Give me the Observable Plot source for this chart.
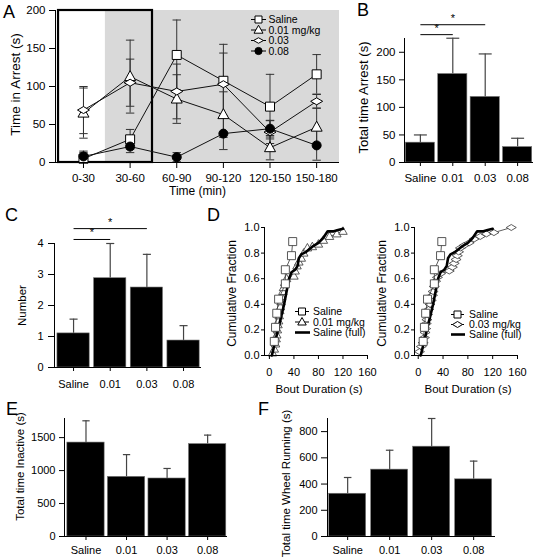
<!DOCTYPE html>
<html><head><meta charset="utf-8">
<script src="https://cdn.jsdelivr.net/npm/d3@7"></script>
<script src="https://cdn.jsdelivr.net/npm/@observablehq/plot@0.6"></script>
<style>
body{margin:0;background:#fff}
#fig{position:relative;width:537px;height:558px;overflow:hidden;font-family:"Liberation Sans",Arial,Helvetica,sans-serif;background:#fff}
.letter{position:absolute;font-size:18px;line-height:1;color:#000}
</style></head>
<body><div id="fig"></div>
<script>
// ---------------- DATA ----------------
const timeBins = ["0-30","30-60","60-90","90-120","120-150","150-180"];
const arrestSaline    = [5, 30.5, 141.5, 107.5, 73.5, 116];
const arrestSalineErr = [8, 13, 46, 48, 42.5, 26];
const arrest001       = [65, 113, 83.5, 63, 19.5, 46.5];
const arrest001Err    = [33, 48, 32, 30, 16, 25];
const arrest003       = [69, 105, 93.5, 103, 40, 80.5];
const arrest003Err    = [31, 31, 36, 41, 15, 9];
const arrest008       = [8, 21, 7, 38, 44.5, 22.5];
const arrest008Err    = [7, 8, 6, 21, 11, 19.5];
const seriesNamesA = ["Saline","0.01 mg/kg","0.03","0.08"];

const doseLabels = ["Saline","0.01","0.03","0.08"];
const totalArrest = [36, 160.5, 119, 28];
const totalArrestErr = [14, 65, 78, 16];
const arrestNumber = [1.1, 2.88, 2.58, 0.87];
const arrestNumberErr = [0.46, 1.12, 1.07, 0.48];
const totalInactive = [1425, 905, 880, 1402];
const totalInactiveErr = [330, 337, 152, 136];
const totalWheel = [326, 510, 685, 436];
const totalWheelErr = [124, 148, 215, 139];

const sigB = [{from:"Saline", to:"0.01", level:232}, {from:"Saline", to:"0.03", level:250}];
const sigC = [{from:"Saline", to:"0.01", level:4.13}, {from:"Saline", to:"0.03", level:4.48}];

const cdfSalineX = [8, 10, 12, 15, 26, 26, 36, 38];
const cdfSalineY = [0.11, 0.22, 0.33, 0.44, 0.56, 0.67, 0.78, 0.89];
const cdfFullX = [4, 9, 14, 19, 24, 28, 32, 36, 42, 46, 48, 52, 60, 70, 80, 88, 95, 105, 112, 120];
const cdfFullY = [0, 0.1, 0.2, 0.3, 0.4, 0.5, 0.6, 0.65, 0.67, 0.7, 0.76, 0.79, 0.81, 0.85, 0.88, 0.92, 0.97, 0.97, 0.98, 0.99];
const cdf001X = [5,8,10,11,12,13,14,15,16,17,18,19,20,22,23,25,28,40,42,45,48,52,56,62,70,80,88,98,110,120];
const cdf001Y = [0.02,0.05,0.09,0.13,0.16,0.2,0.24,0.27,0.31,0.35,0.38,0.42,0.46,0.5,0.53,0.57,0.6,0.62,0.66,0.7,0.73,0.76,0.8,0.84,0.85,0.87,0.9,0.93,0.95,0.97];
const cdf003X = [2,5,8,10,11,12,13,14,15,17,19,21,23,24,26,28,31,36,50,55,58,61,63,65,68,74,82,90,100,110,122,150];
const cdf003Y = [0.03,0.07,0.1,0.14,0.18,0.21,0.25,0.28,0.32,0.36,0.4,0.43,0.47,0.5,0.54,0.58,0.61,0.64,0.66,0.69,0.72,0.75,0.78,0.81,0.84,0.86,0.88,0.91,0.93,0.95,0.96,1.0];
const cdfTicksX = [0, 40, 80, 120, 160];
const cdfTicksY = [0, 0.2, 0.4, 0.6, 0.8, 1.0];

// ---------------- HELPERS ----------------
const FONT = '"Liberation Sans", Arial, Helvetica, sans-serif';
const fig = document.getElementById("fig");
function place(el, left, top){ el.style.position="absolute"; el.style.left=left+"px"; el.style.top=top+"px"; fig.appendChild(el); }
function letter(t, left, top){ const d=document.createElement("div"); d.className="letter"; d.textContent=t; d.style.left=left+"px"; d.style.top=top+"px"; fig.appendChild(d); }
const sqSym = s => ({draw(c){ const h=s/2; c.moveTo(-h,-h); c.lineTo(h,-h); c.lineTo(h,h); c.lineTo(-h,h); c.closePath(); }});
const triSym = (w,h) => ({draw(c){ c.moveTo(0,-h*0.6); c.lineTo(w/2,h*0.4); c.lineTo(-w/2,h*0.4); c.closePath(); }});
const diaSym = (w,h) => ({draw(c){ c.moveTo(-w/2,0); c.lineTo(0,-h/2); c.lineTo(w/2,0); c.lineTo(0,h/2); c.closePath(); }});
const cirSym = r => ({draw(c){ c.moveTo(r,0); c.arc(0,0,r,0,2*Math.PI); }});
const style = fs => ({fontFamily: FONT, fontSize: fs+"px", color:"black", background:"transparent", overflow:"visible"});
const intFmt = d => String(d);
function yTitle(t, dx, dy, fs){ return Plot.text([t], {frameAnchor: "left", textAnchor: "middle", lineAnchor: "middle", rotate: -90, dx, dy, fontSize: fs, fill: "black"}); }
function xTitle(t, dx, dy, fs){ return Plot.text([t], {frameAnchor: "bottom", textAnchor: "middle", lineAnchor: "middle", dx, dy, fontSize: fs, fill: "black"}); }

function legend(left, top, w, h, items, fs){
  const svg = d3.create("svg").attr("width", w).attr("height", h).style("overflow","visible");
  items.forEach(it => {
    svg.append("line").attr("x1", it.x0).attr("x2", it.x1).attr("y1", it.y).attr("y2", it.y)
      .attr("stroke", "#000").attr("stroke-width", it.sw || 1);
    if (it.sym) {
      svg.append("path").attr("d", d3.symbol().type(it.sym)()).attr("transform", `translate(${it.xm},${it.y})`)
        .attr("fill", it.fill).attr("stroke", "#000").attr("stroke-width", 1);
    }
    svg.append("text").attr("x", it.tx).attr("y", it.y).attr("dy","0.35em").attr("font-family", FONT)
      .attr("font-size", fs).attr("fill","#000").text(it.label);
  });
  place(svg.node(), left, top);
}

// ---------------- PANEL A ----------------
const xDomA = [-0.6, 5.49];
const symsA = [sqSym(9), triSym(11,10), diaSym(12,7), cirSym(4.5)];
const fillsA = ["white","white","white","black"];
const valsA = [arrestSaline, arrest001, arrest003, arrest008];
const errsA = [arrestSalineErr, arrest001Err, arrest003Err, arrest008Err];
const rowsA = seriesNamesA.flatMap((s,k) => valsA[k].map((v,i) => ({series:s, k, i, v, lo: Math.max(0, v-errsA[k][i]), hi: v+errsA[k][i]})));
const capA = 0.09;
const plotA = Plot.plot({
  width: 345, height: 197, marginLeft: 55, marginRight: 6, marginTop: 10, marginBottom: 35,
  style: style(11.5),
  x: {type:"linear", domain: xDomA, label: null},
  y: {domain: [0, 200], label: null},
  marks: [
    Plot.rect([0], {x1: 0.47, x2: xDomA[1], y1: 0, y2: 200, fill: "#d9d9d9"}),
    Plot.rect([0], {x1: -0.535, x2: 1.48, y1: 0, y2: 200, fill: "none", stroke: "black", strokeWidth: 2.2}),
    Plot.ruleX(rowsA, {x: "i", y1: "lo", y2: "hi", stroke: "#333", strokeWidth: 1}),
    Plot.link(rowsA, {x1: d => d.i - capA, x2: d => d.i + capA, y1: "hi", y2: "hi", stroke: "#333"}),
    Plot.link(rowsA, {x1: d => d.i - capA, x2: d => d.i + capA, y1: "lo", y2: "lo", stroke: "#333"}),
    Plot.line(rowsA, {x: "i", y: "v", z: "series", stroke: "#111", strokeWidth: 1}),
    ...seriesNamesA.map((s,k) => Plot.dot(rowsA.filter(d => d.k === k), {x: "i", y: "v", r: 4, symbol: symsA[k], fill: fillsA[k], stroke: "black", strokeWidth: 1})),
    Plot.ruleX([xDomA[0]], {stroke: "black"}),
    Plot.ruleY([0], {stroke: "black"}),
    Plot.axisX({ticks: d3.range(timeBins.length), tickFormat: i => timeBins[i], tickSize: 6, tickPadding: 5, label: null}),
    Plot.axisY({ticks: [0, 50, 100, 150, 200], tickFormat: intFmt, tickSize: 6, tickPadding: 4, label: null}),
    yTitle("Time in Arrest (s)", -40, -2, 13.5),
    xTitle("Time (min)", 0, 29, 12)
  ]
});
place(plotA, 0, 0);
legend(0, 0, 345, 60, seriesNamesA.map((s,k) => ({label: s, y: 19.5 + k*10.5, x0: 251, x1: 266, xm: 258.5, tx: 268.5,
  sym: [sqSym(7), triSym(9,8), diaSym(10,5.5), cirSym(3.6)][k], fill: fillsA[k]})), 10.5);

// ---------------- BAR PANELS ----------------
function barPanel(o){
  const rows = o.values.map((v,i) => ({i, v, hi: v + o.errs[i]}));
  const idx = c => doseLabels.indexOf(c);
  const sig = (o.sig || []).map(s => ({a: idx(s.from), b: idx(s.to), level: s.level}));
  const p = Plot.plot({
    width: o.width, height: o.height, marginLeft: o.mL, marginRight: o.mR, marginTop: o.mT, marginBottom: o.mB,
    style: style(o.fs),
    x: {type: "linear", domain: o.xDom, label: null},
    y: {domain: o.yDom, label: null},
    marks: [
      Plot.ruleX(rows, {x: "i", y1: "v", y2: "hi", stroke: "#444", strokeWidth: 1.2}),
      Plot.link(rows, {x1: d => d.i - o.cap, x2: d => d.i + o.cap, y1: "hi", y2: "hi", stroke: "#444", strokeWidth: 1.2}),
      Plot.rectY(rows, {x1: d => d.i - o.half, x2: d => d.i + o.half, y: "v", fill: "black", stroke: "#777", strokeWidth: 0.6}),
      Plot.link(sig, {x1: "a", x2: "b", y1: "level", y2: "level", stroke: "black", strokeWidth: 1}),
      Plot.text(sig, {x: d => (d.a + d.b)/2, y: "level", text: () => "*", dy: -3, lineAnchor: "bottom", fontSize: 11, fill: "black"}),
      Plot.ruleX([o.xDom[0]], {y1: o.yDom[0], y2: o.yDom[1], stroke: "black"}),
      Plot.ruleY([0], {stroke: "black"}),
      Plot.axisX({ticks: d3.range(doseLabels.length), tickFormat: i => doseLabels[i], tickSize: 4, tickPadding: o.xPad, label: null}),
      Plot.axisY({ticks: o.yTicks, tickFormat: intFmt, tickSize: o.yTick, tickPadding: o.yPad, label: null}),
      yTitle(o.title, o.tdx, o.tdy, o.tfs)
    ]
  });
  place(p, o.left, o.top);
}

barPanel({left: 345, top: 0, width: 192, height: 197, mL: 59, mR: 4, mT: 38, mB: 35, fs: 11.5,
  xDom: [-0.49, 3.49], yDom: [0, 225], yTicks: [0, 50, 100, 150, 200], values: totalArrest, errs: totalArrestErr,
  half: 0.45, cap: 0.2, sig: sigB, xPad: 7, yTick: 5, yPad: 4,
  title: "Total time Arrest (s)", tdx: -41, tdy: -3, tfs: 13});

barPanel({left: 0, top: 197, width: 210, height: 198, mL: 54, mR: 9, mT: 46, mB: 28, fs: 11,
  xDom: [-0.52, 3.49], yDom: [0, 4], yTicks: [0, 1, 2, 3, 4], values: arrestNumber, errs: arrestNumberErr,
  half: 0.44, cap: 0.11, sig: sigC, xPad: 9, yTick: 6, yPad: 5,
  title: "Number", tdx: -32, tdy: 0, tfs: 11.5});

barPanel({left: 0, top: 395, width: 240, height: 163, mL: 64, mR: 13, mT: 23, mB: 22, fs: 11,
  xDom: [-0.53, 3.49], yDom: [0, 1790], yTicks: [0, 500, 1000, 1500], values: totalInactive, errs: totalInactiveErr,
  half: 0.46, cap: 0.09, xPad: 6, yTick: 5, yPad: 4,
  title: "Total time Inactive (s)", tdx: -44, tdy: -11, tfs: 11.5});

barPanel({left: 268, top: 395, width: 269, height: 163, mL: 59, mR: 42, mT: 23, mB: 22, fs: 11,
  xDom: [-0.48, 3.52], yDom: [0, 900], yTicks: [0, 200, 400, 600, 800], values: totalWheel, errs: totalWheelErr,
  half: 0.44, cap: 0.09, xPad: 6, yTick: 6, yPad: 4,
  title: "Total time Wheel Running (s)", tdx: -41, tdy: 6, tfs: 11.5});

// ---------------- PANEL D ----------------
function cdfPanel(o){
  const sal = cdfSalineX.map((x,i) => ({x, y: cdfSalineY[i]}));
  const full = cdfFullX.map((x,i) => ({x, y: cdfFullY[i]}));
  const drug = o.dx.map((x,i) => ({x, y: o.dy[i]}));
  const p = Plot.plot({
    width: o.width, height: 200, marginLeft: 49, marginRight: o.mR, marginTop: 30, marginBottom: 42,
    style: style(11),
    x: {type: "linear", domain: o.xDom, label: null},
    y: {domain: [0, 1], label: null},
    marks: [
      Plot.line(drug, {x: "x", y: "y", stroke: "#333", strokeWidth: 0.8}),
      Plot.dot(drug, {x: "x", y: "y", r: 4, symbol: o.sym, fill: "white", stroke: "#333", strokeWidth: 0.8}),
      Plot.line(full, {x: "x", y: "y", stroke: "black", strokeWidth: 2.6}),
      Plot.line(sal, {x: "x", y: "y", stroke: "#333", strokeWidth: 0.8}),
      Plot.dot(sal, {x: "x", y: "y", r: 4, symbol: sqSym(8), fill: "white", stroke: "#444", strokeWidth: 0.9}),
      Plot.ruleX([o.xDom[0]], {stroke: "black"}),
      Plot.ruleY([0], {stroke: "black"}),
      Plot.axisX({ticks: cdfTicksX, tickFormat: intFmt, tickSize: 4, tickPadding: 9, label: null}),
      Plot.axisY({ticks: cdfTicksY, tickFormat: d3.format(".1f"), tickSize: 3, tickPadding: 2, label: null}),
      yTitle("Cumulative Fraction", -32, 2, 12),
      xTitle("Bout Duration (s)", o.tdx, 34, 11.5)
    ]
  });
  place(p, o.left, 197);
}
cdfPanel({left: 215, width: 160, mR: 8, xDom: [-8, 160], dx: cdf001X, dy: cdf001Y, sym: triSym(8.5,7.5), tdx: 3});
cdfPanel({left: 365, width: 172, mR: 20, xDom: [-6, 160], dx: cdf003X, dy: cdf003Y, sym: diaSym(10,6), tdx: 2});

legend(0, 0, 537, 558, [
  {label: "Saline", y: 311.5, x0: 295, x1: 309, xm: 302, tx: 313, sym: sqSym(7), fill: "white"},
  {label: "0.01 mg/kg", y: 322, x0: 295, x1: 309, xm: 302, tx: 313, sym: triSym(8.5,7.5), fill: "white"},
  {label: "Saline (full)", y: 332.5, x0: 295, x1: 310, tx: 313, sw: 2.6}
], 10.5);
legend(0, 0, 537, 558, [
  {label: "Saline", y: 314.5, x0: 451, x1: 464, xm: 457.5, tx: 469, sym: sqSym(7), fill: "white"},
  {label: "0.03 mg/kg", y: 324.5, x0: 451, x1: 464, xm: 457.5, tx: 469, sym: diaSym(10,6), fill: "white"},
  {label: "Saline (full)", y: 334.5, x0: 451, x1: 465, tx: 469, sw: 2.6}
], 10.5);

// ---------------- PANEL LETTERS ----------------
letter("A", 3, 3); letter("B", 357, 1); letter("C", 5, 206); letter("D", 207, 206); letter("E", 6, 400); letter("F", 258, 400);
</script>
</body></html>
